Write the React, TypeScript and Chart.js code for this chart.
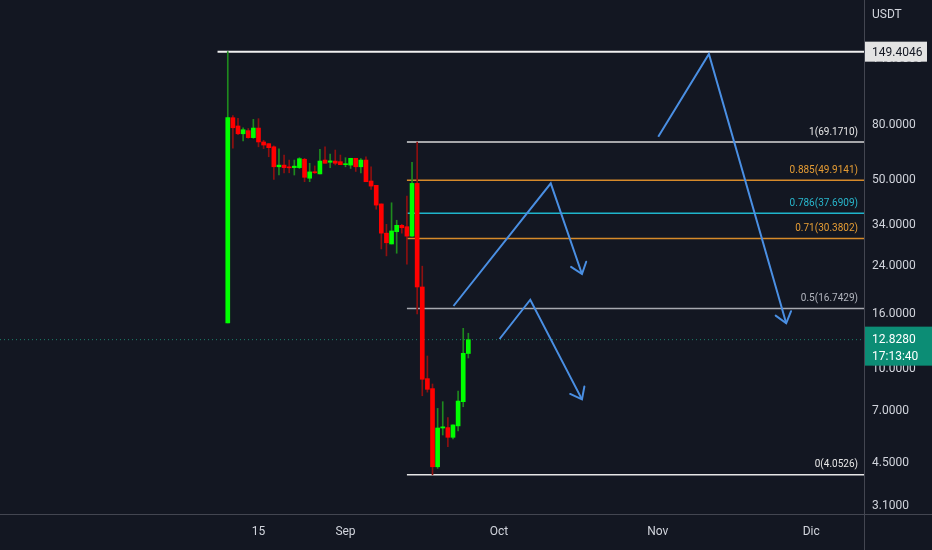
import React, { useEffect, useRef } from 'react';
import { Chart, registerables } from 'chart.js';

Chart.register(...registerables);

// ---- Data (day offsets relative to 1 Sep) ----
const candleDays = [
  -23, -22, -21, -20, -19, -18, -17, -16, -15, -14, -13, -12, -11, -10, -9, -8,
  -7, -6, -5, -4, -3, -2, -1, 0, 1, 2, 3, 4, 5, 6, 7, 8,
  9, 10, 11, 12, 13, 14, 15, 16, 17, 18, 19, 20, 21, 22, 23, 24,
];
const opens = [
  14.8, 85.1, 79.3, 74.2, 76.2, 71.8, 77.9, 69.2, 68.2, 66.4, 56.0, 56.8, 55.8, 55.6, 55.6, 59.7,
  50.8, 53.7, 52.7, 59.3, 58.2, 58.8, 58.5, 57.0, 56.8, 60.2, 56.0, 59.3, 49.6, 47.8, 40.8, 31.8,
  29.0, 32.2, 34.0, 33.6, 31.0, 48.6, 20.1, 9.2, 8.45, 4.34, 6.04, 6.06, 5.58, 6.15, 7.56, 11.4,
];
const highs = [
  149.4046, 86.6, 84.7, 78.1, 77.6, 83.9, 84.4, 70.2, 68.2, 67.0, 65.2, 61.9, 59.3, 59.3, 60.5, 60.2,
  57.7, 56.4, 65.0, 66.4, 62.4, 64.6, 61.9, 60.5, 60.2, 60.2, 60.0, 61.0, 56.0, 47.8, 40.8, 34.3,
  41.2, 35.5, 34.3, 43.6, 58.2, 69.171, 24.0, 11.16, 8.79, 7.14, 7.56, 6.6, 6.2, 8.28, 14.13, 13.55,
];
const lows = [
  14.8, 65.6, 73.7, 69.8, 71.4, 71.4, 66.4, 65.4, 61.0, 50.3, 52.2, 53.2, 53.2, 52.2, 55.2, 49.3,
  49.3, 52.9, 52.7, 57.7, 55.6, 56.9, 57.0, 56.0, 55.2, 53.8, 53.2, 49.3, 46.2, 39.0, 27.8, 26.2,
  29.0, 26.8, 31.8, 24.4, 30.9, 15.96, 7.95, 8.2, 4.0526, 4.28, 5.69, 5.15, 5.5, 5.89, 7.24, 10.97,
];
const closes = [
  85.1, 78.1, 74.2, 76.8, 71.8, 77.9, 69.2, 67.4, 65.9, 56.0, 56.8, 55.6, 55.5, 56.3, 60.0, 51.2,
  53.6, 53.2, 58.8, 57.7, 58.9, 57.7, 57.0, 57.5, 60.2, 56.0, 59.3, 49.3, 47.5, 40.4, 31.8, 29.3,
  32.4, 34.0, 33.3, 31.0, 48.6, 20.1, 9.15, 8.4, 4.34, 6.04, 6.1, 5.58, 6.2, 7.6, 11.42, 12.828,
];

const xTickDays = [-17, 0, 30, 61, 91];
const xTickLabels = ['15', 'Sep', 'Oct', 'Nov', 'Dic'];
const yTickValues = [3.1, 4.5, 7, 10, 16, 24, 34, 50, 80, 140];

const fibRatios = ['1', '0.885', '0.786', '0.71', '0.5', '0'];
const fibPrices = [69.171, 49.9141, 37.6909, 30.3802, 16.7429, 4.0526];
const fibStartDay = 12;

const athPrice = 149.4046;
const athStartDay = -25;
const lastPrice = 12.828;
const countdown = '17:13:40';

const arrow1Days = [21.1, 40.1, 46.2];
const arrow1Prices = [17.09, 48.6, 22.45];
const arrow2Days = [30.1, 36.1, 46.2];
const arrow2Prices = [12.9, 18.03, 7.71];
const arrow3Days = [61.1, 71.0, 86.1];
const arrow3Prices = [72.4, 146.5, 14.75];

const xMin = -67.5;
const xMax = 101.3;
const yMin = 2.877;
const yMax = 232.1;

// ---- Styles ----
const BG = '#131722';
const AXIS_TEXT = '#d1d4dc';
const SEP = '#434651';
const FONT = 'Roboto, "Liberation Sans", sans-serif';
const UP_BODY = '#00ff00';
const UP_WICK = '#1e8a1e';
const DN_BODY = '#ff0000';
const DN_WICK = '#8e1010';
const ARROW = '#4a8fe3';
const fibLineColors = ['#d9d9d9', '#d68a2a', '#1fb5cc', '#d68a2a', '#a7a9b0', '#e6e6e6'];
const fibTextColors = ['#e6e6e6', '#e59c34', '#28b6cc', '#e59c34', '#b2b5be', '#e6e6e6'];

const zeroPad = (scale: any) => {
  scale.paddingTop = 0;
  scale.paddingBottom = 0;
  scale.paddingLeft = 0;
  scale.paddingRight = 0;
};

const overlayPlugin = {
  id: 'overlay',
  beforeDraw(chart: any) {
    const { ctx, width, height } = chart;
    ctx.save();
    ctx.fillStyle = BG;
    ctx.fillRect(0, 0, width, height);
    ctx.restore();
  },
  afterDatasetsDraw(chart: any) {
    const { ctx, chartArea, scales } = chart;
    const ys = scales.y;
    ctx.save();
    // fib labels
    ctx.font = `10px ${FONT}`;
    ctx.textAlign = 'right';
    ctx.textBaseline = 'middle';
    fibPrices.forEach((p, i) => {
      const y = ys.getPixelForValue(p);
      ctx.fillStyle = fibTextColors[i];
      ctx.fillText(`${fibRatios[i]}(${p.toFixed(4)})`, chartArea.right - 6, y - 10);
    });
    // arrowheads
    chart.data.datasets.forEach((ds: any, di: number) => {
      if (!ds.isArrow) return;
      const meta = chart.getDatasetMeta(di);
      const pts = meta.data;
      const a = pts[pts.length - 2];
      const b = pts[pts.length - 1];
      const ang = Math.atan2(b.y - a.y, b.x - a.x);
      const len = 13;
      const spread = (38 * Math.PI) / 180;
      ctx.strokeStyle = ARROW;
      ctx.lineWidth = 2;
      ctx.lineCap = 'round';
      ctx.beginPath();
      ctx.moveTo(b.x - len * Math.cos(ang - spread), b.y - len * Math.sin(ang - spread));
      ctx.lineTo(b.x, b.y);
      ctx.lineTo(b.x - len * Math.cos(ang + spread), b.y - len * Math.sin(ang + spread));
      ctx.stroke();
    });
    ctx.restore();
  },
  afterDraw(chart: any) {
    const { ctx, chartArea, scales, width, height } = chart;
    const ys = scales.y;
    ctx.save();
    // separators
    ctx.strokeStyle = SEP;
    ctx.lineWidth = 1;
    ctx.beginPath();
    ctx.moveTo(Math.round(chartArea.right) + 0.5, 0);
    ctx.lineTo(Math.round(chartArea.right) + 0.5, height);
    ctx.moveTo(0, Math.round(chartArea.bottom) - 0.5);
    ctx.lineTo(width, Math.round(chartArea.bottom) - 0.5);
    ctx.stroke();
    // USDT
    ctx.font = `12px ${FONT}`;
    ctx.fillStyle = AXIS_TEXT;
    ctx.textAlign = 'left';
    ctx.textBaseline = 'middle';
    ctx.fillText('USDT', chartArea.right + 8, 15);
    // ATH price box
    const ay = ys.getPixelForValue(athPrice);
    ctx.fillStyle = '#e3e3e3';
    ctx.fillRect(chartArea.right + 1, ay - 10, 62, 20);
    ctx.fillStyle = '#131722';
    ctx.fillText(athPrice.toFixed(4), chartArea.right + 8, ay + 1);
    // last price box
    const ly = ys.getPixelForValue(lastPrice);
    ctx.fillStyle = '#0c8d75';
    ctx.fillRect(chartArea.right + 1, ly - 13, width - chartArea.right - 1, 39);
    ctx.fillStyle = '#ffffff';
    ctx.fillText(lastPrice.toFixed(4), chartArea.right + 8, ly);
    ctx.fillText(countdown, chartArea.right + 8, ly + 17);
    ctx.restore();
  },
};

export default function App() {
  const ref = useRef<HTMLCanvasElement>(null);

  useEffect(() => {
    if (!ref.current) return;
    const up = opens.map((o, i) => closes[i] >= o);

    const wickData = candleDays.map((d, i) => ({ x: d, y: [lows[i], highs[i]] }));
    const bodyData = candleDays.map((d, i) => ({
      x: d,
      y: [Math.min(opens[i], closes[i]), Math.max(opens[i], closes[i])],
    }));

    const fibSets = fibPrices.map((p, i) => ({
      type: 'line',
      data: [
        { x: fibStartDay, y: p },
        { x: xMax, y: p },
      ],
      borderColor: fibLineColors[i],
      borderWidth: 1.5,
      pointRadius: 0,
      order: 6,
    }));

    const arrowSet = (days: number[], prices: number[]) => ({
      type: 'line',
      isArrow: true,
      data: days.map((d, i) => ({ x: d, y: prices[i] })),
      borderColor: ARROW,
      borderWidth: 2,
      pointRadius: 0,
      tension: 0,
      order: 1,
    });

    const chart = new Chart(ref.current, {
      type: 'bar',
      data: {
        datasets: [
          {
            type: 'bar',
            data: wickData,
            backgroundColor: up.map((u) => (u ? UP_WICK : DN_WICK)),
            barThickness: 1,
            grouped: false,
            borderWidth: 0,
            order: 5,
          },
          {
            type: 'bar',
            data: bodyData,
            backgroundColor: up.map((u) => (u ? UP_BODY : DN_BODY)),
            barThickness: 4,
            grouped: false,
            minBarLength: 1,
            borderWidth: 0,
            order: 4,
          },
          ...fibSets,
          {
            type: 'line',
            data: [
              { x: athStartDay, y: athPrice },
              { x: xMax, y: athPrice },
            ],
            borderColor: '#f0f0f0',
            borderWidth: 2,
            pointRadius: 0,
            order: 6,
          },
          {
            type: 'line',
            data: [
              { x: xMin, y: lastPrice },
              { x: xMax, y: lastPrice },
            ],
            borderColor: '#1c7f6c',
            borderWidth: 1,
            borderDash: [1, 3],
            pointRadius: 0,
            order: 7,
          },
          arrowSet(arrow1Days, arrow1Prices),
          arrowSet(arrow2Days, arrow2Prices),
          arrowSet(arrow3Days, arrow3Prices),
        ] as any,
      },
      options: {
        animation: false,
        responsive: false,
        events: [],
        layout: { padding: 0 },
        plugins: { legend: { display: false }, tooltip: { enabled: false } },
        scales: {
          x: {
            type: 'linear',
            min: xMin,
            max: xMax,
            offset: false,
            grid: { display: false, drawTicks: false },
            border: { display: false },
            afterBuildTicks: (scale: any) => {
              scale.ticks = xTickDays.map((v) => ({ value: v }));
            },
            afterFit: (scale: any) => {
              scale.height = 35;
              zeroPad(scale);
            },
            ticks: {
              autoSkip: false,
              maxRotation: 0,
              padding: 10,
              color: AXIS_TEXT,
              font: { family: FONT, size: 12 },
              callback: (v: any) => {
                const idx = xTickDays.indexOf(Number(v));
                return idx >= 0 ? xTickLabels[idx] : '';
              },
            },
          },
          y: {
            type: 'logarithmic',
            position: 'right',
            min: yMin,
            max: yMax,
            grid: { display: false, drawTicks: false },
            border: { display: false },
            afterBuildTicks: (scale: any) => {
              scale.ticks = yTickValues.map((v) => ({ value: v }));
            },
            afterFit: (scale: any) => {
              scale.width = 68;
              zeroPad(scale);
            },
            ticks: {
              autoSkip: false,
              padding: 8,
              color: AXIS_TEXT,
              font: { family: FONT, size: 12 },
              callback: (v: any) => Number(v).toFixed(4),
            },
          },
        },
      } as any,
      plugins: [overlayPlugin],
    });
    return () => chart.destroy();
  }, []);

  return (
    <div
      style={{
        position: 'fixed',
        left: 0,
        top: 0,
        width: 932,
        height: 550,
        background: BG,
      }}
    >
      <canvas ref={ref} width={932} height={550} style={{ width: 932, height: 550, display: 'block' }} />
    </div>
  );
}
